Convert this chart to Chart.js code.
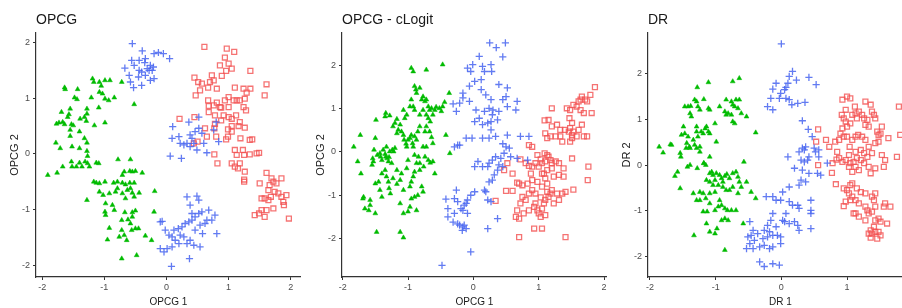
<!DOCTYPE html>
<html>
<head>
<meta charset="utf-8">
<script src="https://cdn.jsdelivr.net/npm/chart.js@4"></script>
<style>
  html, body { margin: 0; padding: 0; background: #fff; }
  body { width: 902px; height: 308px; overflow: hidden; position: relative; }
  .panel { position: absolute; top: 0; width: 306px; height: 308px; }
</style>
</head>
<body>
<div class="panel" style="left:0px"><canvas id="c1" width="306" height="308"></canvas></div>
<div class="panel" style="left:306px"><canvas id="c2" width="306" height="308"></canvas></div>
<div class="panel" style="left:612px"><canvas id="c3" width="306" height="308"></canvas></div>
<script>
const tickValues = [-2, -1, 0, 1, 2];

// OPCG
const opcgGreen = [[-1.91,-0.38],[-1.76,-0.34],[-1.64,1.19],[-1.63,1.16],[-1.43,1.16],[-1.19,1.35],[-1.17,1.29],[-1.08,1.29],[-1.05,1.22],[-0.99,1.32],[-0.91,1.32],[-0.72,1.29],[-1.48,1.01],[-1.44,0.98],[-1.21,1.01],[-1.08,1.11],[-1.03,1.08],[-0.99,0.99],[-0.84,1.01],[-0.93,0.96],[-1.55,0.81],[-1.28,0.81],[-1.09,0.83],[-1.69,0.75],[-1.73,0.56],[-1.77,0.54],[-1.67,0.57],[-1.64,0.53],[-1.59,0.66],[-1.57,0.71],[-1.53,0.53],[-1.50,0.51],[-1.39,0.63],[-1.32,0.66],[-1.28,0.72],[-1.29,0.59],[-1.16,0.51],[-0.99,0.56],[-0.52,0.89],[-1.55,0.43],[-1.55,0.32],[-1.40,0.40],[-1.32,0.28],[-1.78,0.20],[-1.71,0.10],[-1.52,0.13],[-1.40,0.10],[-1.28,0.05],[-1.27,-0.04],[-1.28,0.20],[-1.53,-0.14],[-1.40,-0.16],[-1.36,-0.23],[-1.31,-0.14],[-1.27,-0.17],[-1.24,-0.23],[-1.13,-0.16],[-1.09,-0.17],[-1.45,-0.23],[-1.52,-0.23],[-1.67,-0.23],[-1.17,-0.50],[-1.13,-0.52],[-1.08,-0.53],[-0.99,-0.50],[-0.85,-0.52],[-0.79,-0.50],[-0.71,-0.52],[-0.66,-0.55],[-0.59,-0.52],[-0.52,-0.52],[-0.78,-0.10],[-0.58,-0.10],[-0.59,-0.31],[-0.55,-0.32],[-0.50,-0.31],[-0.39,-0.34],[-0.68,-0.32],[-0.71,-0.38],[-1.08,-0.68],[-1.02,-0.74],[-0.92,-0.71],[-0.82,-0.68],[-0.71,-0.71],[-0.63,-0.65],[-0.55,-0.70],[-0.44,-0.70],[-0.19,-0.67],[-1.28,-0.83],[-0.98,-0.89],[-0.87,-0.92],[-0.66,-0.80],[-0.52,-0.77],[-0.58,-0.62],[-0.79,-0.62],[-0.99,-1.04],[-0.98,-1.10],[-0.84,-1.01],[-0.67,-1.05],[-0.55,-1.05],[-0.50,-1.02],[-0.55,-1.13],[-0.72,-1.19],[-0.62,-1.18],[-0.58,-1.25],[-0.56,-1.37],[-0.50,-1.34],[-0.45,-1.34],[-0.92,-1.33],[-0.72,-1.37],[-0.68,-1.46],[-0.76,-1.49],[-0.64,-1.55],[-0.95,-1.54],[-0.34,-1.47],[-0.24,-1.55],[-0.20,-1.04],[-0.72,-1.88],[-0.48,-1.82]];
const opcgBlue = [[-0.55,1.98],[-0.39,1.85],[-0.56,1.68],[-0.44,1.68],[-0.34,1.71],[-0.20,1.80],[-0.13,1.82],[-0.05,1.80],[0.05,1.71],[-0.67,1.54],[-0.52,1.59],[-0.44,1.50],[-0.40,1.47],[-0.31,1.53],[-0.26,1.59],[-0.28,1.50],[-0.23,1.50],[-0.21,1.56],[-0.34,1.41],[-0.45,1.38],[-0.60,1.41],[-0.58,1.29],[-0.53,1.19],[-0.40,1.23],[-0.20,1.35],[-0.26,1.32],[-0.35,1.64],[0.10,0.49],[0.09,0.28],[0.20,0.31],[0.22,0.19],[0.28,0.16],[0.33,0.19],[0.38,0.34],[0.41,0.28],[0.46,0.40],[0.52,0.46],[0.57,0.37],[0.60,0.19],[0.49,0.07],[0.65,0.02],[0.06,-0.04],[0.24,-0.08],[0.80,0.57],[0.84,0.22],[0.36,0.57],[0.52,0.66],[0.76,0.43],[0.38,0.13],[0.44,0.19],[-0.10,-1.22],[-0.07,-1.21],[-0.02,-1.37],[0.04,-1.46],[0.09,-1.49],[0.12,-1.37],[0.19,-1.34],[0.25,-1.31],[0.30,-1.25],[0.36,-1.22],[0.41,-1.19],[0.46,-1.13],[0.52,-1.07],[0.57,-1.04],[0.68,-1.01],[0.78,-1.10],[0.81,-1.43],[0.33,-0.77],[0.49,-0.76],[0.52,-0.83],[0.38,-0.92],[0.41,-1.07],[0.54,-1.28],[0.62,-1.25],[0.46,-1.37],[0.38,-1.55],[0.33,-1.61],[0.44,-1.64],[0.54,-1.67],[0.20,-1.61],[0.09,-1.67],[0.01,-1.70],[-0.10,-1.70],[-0.04,-1.76],[0.08,-2.02],[0.37,-1.88],[0.28,-1.49],[0.22,-1.46],[0.58,-1.43],[0.65,-1.19],[0.73,-1.19],[0.14,-1.55]];
const opcgRed = [[0.61,1.92],[0.97,1.89],[1.09,1.83],[0.94,1.73],[0.86,1.59],[1.00,1.62],[1.05,1.53],[0.96,1.49],[0.73,1.41],[0.76,1.32],[0.89,1.40],[0.45,1.37],[0.51,1.29],[0.57,1.26],[0.54,1.14],[0.47,1.05],[0.70,1.29],[0.81,1.17],[0.67,1.19],[1.35,1.49],[1.61,1.25],[1.58,1.05],[1.24,1.17],[1.35,1.17],[1.29,1.10],[1.10,1.19],[0.67,0.96],[0.68,0.86],[0.76,0.87],[0.86,0.84],[0.94,0.96],[1.00,1.02],[1.08,0.96],[1.13,0.96],[1.18,0.96],[1.26,0.99],[1.00,0.84],[0.88,0.83],[0.81,0.92],[1.24,0.84],[1.28,0.78],[0.68,0.75],[0.78,0.69],[0.92,0.69],[1.00,0.66],[1.05,0.63],[1.12,0.69],[1.18,0.57],[1.26,0.47],[1.16,0.50],[1.05,0.50],[0.99,0.44],[0.99,0.31],[0.88,0.60],[0.78,0.54],[0.77,0.46],[0.62,0.46],[0.65,0.31],[0.80,0.31],[0.96,0.26],[1.05,0.40],[1.19,0.28],[1.34,0.25],[1.38,0.26],[1.10,0.07],[1.13,-0.02],[1.23,0.07],[1.25,-0.02],[1.34,-0.01],[1.45,0.01],[1.49,0.02],[1.05,-0.17],[1.10,-0.23],[1.15,-0.26],[1.18,-0.17],[1.26,-0.32],[1.25,-0.46],[1.25,-0.50],[0.77,-0.01],[0.82,-0.17],[0.50,0.22],[0.45,0.66],[0.21,0.63],[0.44,0.19],[1.61,-0.34],[1.69,-0.44],[1.72,-0.50],[1.77,-0.53],[1.85,-0.44],[1.66,-0.56],[1.64,-0.65],[1.74,-0.68],[1.80,-0.71],[1.68,-0.77],[1.64,-0.83],[1.58,-0.80],[1.53,-0.80],[1.61,-1.01],[1.53,-1.01],[1.49,-1.07],[1.42,-1.10],[1.58,-1.13],[1.72,-0.98],[1.88,-0.86],[1.89,-0.92],[1.93,-0.74],[1.97,-1.16],[1.85,-0.77],[1.50,-0.53]];

// OPCG - cLogit
const clogitGreen = [[-1.83,0.12],[-1.77,-0.22],[-1.73,0.39],[-1.72,-0.50],[-1.69,-1.08],[-1.68,-1.04],[-1.66,-1.31],[-1.60,-1.35],[-1.58,-1.23],[-1.58,-1.11],[-1.55,-0.30],[-1.54,-0.15],[-1.53,-0.22],[-1.52,0.05],[-1.50,0.32],[-1.49,0.74],[-1.47,-0.07],[-1.43,-0.03],[-1.42,-0.11],[-1.40,-0.19],[-1.38,0.05],[-1.35,-0.05],[-1.34,-0.11],[-1.33,0.12],[-1.32,-0.15],[-1.30,-0.22],[-1.29,-0.12],[-1.28,0.01],[-1.25,-0.26],[-1.24,0.05],[-1.22,0.01],[-1.20,0.09],[-1.35,0.82],[-1.34,0.90],[-1.28,0.84],[-1.23,0.59],[-1.20,0.67],[-1.17,0.76],[-1.17,0.43],[-1.15,0.51],[-1.12,0.63],[-1.10,0.47],[-1.07,0.39],[-1.06,0.28],[-1.03,0.19],[-1.02,0.12],[-1.00,0.28],[-0.97,0.32],[-0.95,0.39],[-0.93,0.20],[-0.92,0.12],[-0.90,0.36],[-0.87,0.28],[-0.85,0.47],[-0.82,0.59],[-0.82,0.86],[-0.90,0.97],[-0.92,1.05],[-0.97,1.05],[-0.95,1.21],[-1.02,0.86],[-1.07,0.97],[-1.05,0.78],[-0.95,1.94],[-0.92,1.86],[-0.90,1.52],[-0.88,1.44],[-0.87,1.36],[-0.82,1.48],[-0.77,1.28],[-0.74,1.17],[-0.72,1.21],[-0.69,1.05],[-0.67,0.97],[-0.64,1.01],[-0.62,0.86],[-0.59,0.97],[-0.57,1.04],[-0.52,1.01],[-0.49,0.94],[-0.47,1.05],[-0.44,1.15],[-0.37,1.36],[-0.47,2.02],[-0.72,1.90],[-0.79,1.21],[-0.77,0.97],[-0.72,0.86],[-0.69,0.78],[-0.66,0.70],[-0.72,0.59],[-0.67,0.47],[-0.64,0.34],[-0.62,0.20],[-0.72,0.12],[-0.74,-0.11],[-0.69,-0.19],[-0.66,-0.25],[-0.62,-0.22],[-0.59,-0.50],[-0.76,-0.34],[-0.82,-0.42],[-0.87,-0.26],[-0.90,-0.46],[-0.92,-0.57],[-0.95,-0.69],[-0.97,-0.80],[-0.79,-0.80],[-0.77,-0.92],[-0.85,-1.00],[-0.90,-1.04],[-0.95,-1.08],[-1.12,-1.19],[-1.00,-1.38],[-0.97,-1.27],[-1.07,-1.42],[-0.87,-1.35],[-1.48,-1.85],[-1.12,-1.85],[-1.07,-1.98],[-1.45,-0.69],[-1.40,-0.50],[-1.35,-0.42],[-1.33,-0.57],[-1.30,-0.69],[-1.29,-0.84],[-1.27,-0.96],[-1.23,-0.61],[-1.17,-0.74],[-1.12,-0.65],[-1.10,-0.50],[-1.07,-0.88],[-1.02,-0.38],[-1.00,-0.19],[-1.17,-0.42],[-1.40,-1.04],[-1.43,-0.88],[-1.50,-0.73],[-0.36,-0.03],[-0.90,-0.07],[-0.84,-0.11],[-0.82,-0.26],[-0.77,0.12],[-0.74,0.47],[-1.50,-1.42],[-0.42,0.39]];
const clogitBlue = [[0.25,2.52],[0.35,2.41],[0.49,2.52],[0.45,2.20],[0.09,2.21],[-0.01,2.02],[-0.09,1.94],[-0.04,1.86],[0.14,1.98],[0.27,2.02],[0.28,1.86],[0.17,1.86],[0.12,1.67],[0.02,1.63],[-0.06,1.52],[-0.16,1.36],[0.12,1.44],[0.19,1.32],[0.27,1.21],[0.39,1.56],[0.52,1.48],[0.50,1.28],[0.45,1.21],[0.67,1.17],[0.65,0.97],[0.52,1.05],[0.39,0.94],[0.30,0.97],[0.24,1.01],[0.17,0.94],[0.09,0.78],[0.04,0.97],[-0.06,1.17],[-0.21,1.13],[-0.31,1.11],[-0.26,0.94],[-0.16,1.25],[0.37,0.74],[0.27,0.70],[0.29,0.86],[0.22,0.67],[0.14,0.63],[0.02,0.70],[0.27,0.51],[0.34,0.36],[0.24,0.32],[0.14,0.32],[-0.02,0.32],[0.52,0.39],[0.45,0.19],[0.50,0.12],[0.55,0.09],[0.57,-0.11],[0.47,-0.03],[0.34,-0.11],[0.29,-0.19],[0.24,-0.26],[0.42,-0.15],[0.39,-0.30],[0.37,-0.42],[0.32,-0.53],[0.29,-0.65],[0.24,-0.69],[0.45,-0.34],[-0.11,0.32],[-0.24,0.16],[-0.29,0.12],[-0.21,0.16],[0.07,-0.22],[0.14,-0.34],[0.02,-0.34],[0.22,-0.34],[0.19,-0.92],[0.17,-0.88],[0.22,-1.11],[0.27,-1.15],[0.02,-0.92],[-0.04,-1.00],[-0.09,-1.11],[-0.11,-1.19],[-0.14,-1.23],[-0.09,-1.42],[-0.16,-1.35],[-0.19,-1.31],[-0.24,-1.15],[-0.29,-1.08],[-0.26,-0.88],[-0.42,-1.09],[-0.39,-1.31],[-0.39,-1.50],[-0.31,-1.62],[-0.24,-1.66],[-0.21,-1.69],[-0.16,-1.73],[-0.11,-1.77],[-0.17,-1.81],[-0.14,-1.69],[-0.29,-1.42],[-0.04,-2.31],[-0.48,-2.62],[0.72,0.36],[0.67,-0.15],[0.85,0.36],[0.83,-0.19],[0.22,-1.77],[0.37,-1.54]];
const clogitRed = [[1.86,1.50],[1.79,1.32],[1.71,1.21],[1.66,1.28],[1.61,1.17],[1.58,1.05],[1.64,0.97],[1.69,0.90],[1.74,1.17],[1.81,0.90],[1.64,1.21],[1.53,1.09],[1.48,0.97],[1.43,1.01],[1.47,0.78],[1.51,0.67],[1.48,0.55],[1.53,0.47],[1.61,0.51],[1.66,0.63],[1.69,0.36],[1.58,0.36],[1.51,0.39],[1.46,0.47],[1.40,0.51],[1.33,0.51],[1.28,0.63],[1.20,0.59],[1.15,0.74],[1.20,1.01],[1.09,0.73],[1.10,0.43],[1.13,0.32],[1.18,0.36],[1.26,0.36],[1.33,0.36],[1.36,0.24],[1.48,0.24],[1.51,0.32],[1.74,0.36],[0.85,0.16],[0.90,0.12],[0.98,-0.07],[1.09,-0.03],[1.13,-0.07],[1.15,-0.11],[1.18,-0.19],[1.20,-0.26],[1.26,-0.22],[1.31,-0.26],[1.10,-0.22],[1.05,-0.26],[1.03,-0.17],[1.00,-0.34],[0.95,-0.26],[0.90,-0.34],[0.85,-0.32],[0.80,-0.26],[0.72,-0.17],[0.52,-0.26],[0.47,-0.42],[0.50,-0.90],[0.60,-0.90],[0.67,-0.71],[0.70,-0.73],[0.75,-0.77],[0.83,-0.73],[0.90,-0.65],[0.98,-0.69],[1.08,-0.50],[1.10,-0.61],[1.13,-0.73],[1.05,-0.80],[1.13,-0.92],[1.20,-0.88],[1.28,-0.96],[1.36,-0.96],[1.41,-0.92],[1.53,-0.87],[1.23,-0.57],[1.31,-0.53],[1.38,-0.38],[1.38,-0.57],[1.51,-0.15],[1.76,-0.34],[1.75,-0.65],[0.90,-0.88],[0.85,-0.96],[0.80,-1.11],[0.75,-1.04],[0.72,-1.19],[0.67,-1.35],[0.65,-1.50],[0.70,-1.54],[0.77,-1.42],[0.85,-1.35],[0.93,-1.27],[0.95,-1.19],[0.98,-1.35],[1.00,-1.42],[1.05,-1.31],[1.08,-1.19],[1.10,-1.11],[1.15,-1.04],[1.18,-0.96],[1.23,-1.19],[1.31,-1.11],[1.03,-1.50],[1.10,-1.46],[0.93,-1.77],[1.05,-1.77],[0.70,-1.97],[1.41,-1.97],[0.34,-1.13],[0.95,-0.96],[1.03,-1.05],[0.60,-0.50],[0.88,-0.50],[1.05,-0.50],[1.20,-0.38],[1.13,-0.42]];

// DR
const drGreen = [[-1.86,0.40],[-1.80,0.27],[-1.69,0.45],[-1.67,0.44],[-1.62,-0.24],[-1.58,-0.15],[-1.54,-0.51],[-1.53,0.18],[-1.47,1.28],[-1.42,1.28],[-1.39,1.13],[-1.38,1.29],[-1.37,1.06],[-1.32,1.43],[-1.29,1.39],[-1.27,1.28],[-1.24,1.21],[-1.18,1.44],[-1.11,1.24],[-1.09,1.21],[-1.28,1.70],[-1.49,0.84],[-1.52,0.66],[-1.47,0.69],[-1.42,0.62],[-1.44,0.48],[-1.40,0.40],[-1.39,0.37],[-1.34,0.55],[-1.32,0.44],[-1.29,0.37],[-1.24,0.29],[-1.24,0.40],[-1.27,0.62],[-1.29,0.73],[-1.22,0.73],[-1.19,0.69],[-1.16,0.80],[-1.14,0.84],[-1.11,0.73],[-1.09,0.69],[-1.29,0.84],[-1.43,-0.04],[-1.39,0.00],[-1.28,-0.07],[-1.18,0.04],[-1.15,0.00],[-0.99,0.51],[-1.09,0.18],[-1.54,0.26],[-1.45,0.37],[-1.34,-0.62],[-1.29,-0.77],[-1.24,-0.59],[-1.24,-0.77],[-1.19,-0.62],[-1.15,-0.73],[-1.09,-0.62],[-1.01,-0.59],[-1.19,-1.02],[-1.13,-1.02],[-1.09,-0.84],[-1.01,-0.99],[-0.96,-0.91],[-0.94,-0.77],[-0.91,-0.88],[-0.86,-0.95],[-0.82,-0.99],[-0.76,-0.99],[-0.69,-0.99],[-0.66,-0.62],[-1.14,-1.28],[-1.09,-1.46],[-1.01,-1.50],[-0.98,-1.39],[-0.91,-1.21],[-0.86,-1.17],[-0.81,-1.21],[-1.33,-1.54],[-0.86,-1.86],[-0.58,-1.28],[-0.46,-0.59],[-0.39,-0.73],[-0.53,-0.37],[-0.57,0.07],[-0.39,0.71],[-0.84,1.43],[-0.76,1.39],[-0.74,1.32],[-0.71,1.28],[-0.69,1.43],[-0.66,1.24],[-0.64,1.43],[-0.61,1.13],[-0.53,1.06],[-0.86,1.17],[-0.84,1.10],[-0.81,1.13],[-0.76,1.10],[-0.74,0.95],[-0.71,0.91],[-1.09,-0.18],[-1.06,-0.15],[-1.04,-0.22],[-1.01,-0.33],[-0.99,-0.18],[-0.94,-0.22],[-0.91,-0.29],[-0.89,-0.37],[-0.86,-0.24],[-0.83,-0.20],[-0.79,-0.29],[-0.74,-0.18],[-0.69,-0.15],[-0.66,-0.26],[-0.64,-0.37],[-0.61,-0.48],[-0.74,-0.48],[-0.79,-0.55],[-0.84,-0.55],[-0.89,-0.48],[-0.96,-0.44],[-1.04,-0.44],[-1.09,-0.37],[-1.14,-0.33],[-1.18,0.04],[-0.64,1.90],[-0.74,1.83],[-1.11,1.81],[-0.94,1.28],[-1.01,0.91]];
const drBlue = [[0.00,2.65],[0.17,2.05],[0.12,1.94],[0.23,1.86],[0.42,1.92],[0.53,1.76],[0.10,1.79],[0.07,1.70],[0.05,1.65],[-0.08,1.79],[-0.13,1.66],[-0.01,1.57],[-0.03,1.46],[0.07,1.46],[0.12,1.43],[0.16,1.32],[0.25,1.35],[0.36,1.37],[-0.16,1.46],[-0.21,1.28],[-0.13,1.21],[0.32,0.97],[0.41,0.78],[0.47,0.62],[0.37,0.40],[0.35,0.33],[0.32,0.37],[0.27,0.29],[0.30,0.11],[0.35,0.07],[0.40,0.11],[0.42,0.18],[0.50,0.37],[0.52,0.29],[0.10,0.18],[0.20,-0.07],[0.32,-0.11],[0.42,-0.18],[0.55,-0.18],[0.60,-0.22],[0.37,-0.37],[0.27,-0.44],[0.30,-0.33],[0.12,-0.48],[0.02,-0.59],[-0.13,-0.69],[-0.23,-0.69],[-0.08,-0.77],[-0.01,-0.77],[0.12,-0.80],[0.17,-0.88],[0.25,-0.88],[0.27,-0.95],[0.45,-0.77],[0.45,-0.99],[0.45,-1.06],[0.07,-1.06],[0.02,-1.21],[-0.13,-1.06],[-0.16,-1.21],[-0.21,-1.32],[-0.26,-1.43],[-0.18,-1.46],[-0.08,-1.35],[0.05,-1.24],[0.12,-1.28],[0.20,-1.24],[0.25,-1.32],[0.27,-1.43],[0.45,-1.39],[-0.13,-1.54],[-0.21,-1.57],[-0.28,-1.61],[-0.36,-1.50],[-0.43,-1.43],[-0.46,-1.54],[-0.41,-1.65],[-0.51,-1.57],[-0.48,-1.72],[-0.53,-1.83],[-0.43,-1.83],[-0.33,-1.79],[-0.26,-1.76],[-0.18,-1.83],[-0.13,-1.79],[-0.06,-1.54],[-0.01,-1.57],[-0.01,-1.72],[-0.33,-2.12],[-0.26,-2.22],[-0.13,-2.16],[-0.03,-2.19],[-0.48,-1.24],[0.70,0.04],[0.57,0.33],[0.57,0.18]];
const drRed = [[0.56,0.78],[0.53,0.51],[0.56,0.00],[0.68,0.55],[0.73,0.40],[0.77,-0.17],[0.78,0.04],[0.82,0.51],[0.84,0.12],[0.85,0.29],[0.88,0.55],[0.93,0.80],[0.92,1.10],[0.93,1.43],[0.98,1.21],[1.00,1.50],[1.05,1.46],[0.95,1.02],[0.98,0.95],[1.00,0.84],[1.05,0.91],[1.08,1.10],[1.12,1.28],[1.13,1.13],[1.15,1.02],[1.18,1.17],[1.23,1.10],[1.26,1.02],[1.28,1.39],[1.28,0.88],[1.31,0.99],[1.33,0.84],[1.36,1.32],[1.38,1.17],[1.41,1.10],[1.43,1.02],[1.46,0.73],[1.48,0.66],[1.51,0.69],[1.53,0.84],[1.63,0.59],[1.79,1.28],[1.81,0.66],[1.76,0.18],[0.90,0.69],[0.95,0.62],[1.00,0.62],[1.04,0.40],[1.08,0.55],[1.13,0.62],[1.17,0.66],[1.23,0.62],[1.28,0.55],[1.33,0.40],[1.38,0.26],[1.43,0.48],[1.48,0.51],[1.53,0.22],[1.58,0.11],[1.56,-0.04],[1.43,-0.07],[1.36,-0.18],[1.33,-0.04],[1.26,0.04],[1.21,0.11],[1.15,0.15],[1.10,0.07],[1.05,0.04],[0.98,0.11],[0.93,0.07],[0.88,0.15],[1.03,0.22],[1.13,0.29],[1.21,0.33],[1.26,0.26],[1.03,-0.04],[1.08,-0.15],[1.13,-0.04],[1.18,-0.11],[1.31,0.18],[0.83,-0.42],[1.00,-0.55],[1.03,-0.62],[1.08,-0.69],[1.05,-0.77],[1.13,-0.77],[1.18,-0.84],[1.28,-0.91],[1.31,-0.99],[1.33,-1.06],[1.38,-1.02],[1.41,-0.77],[1.43,-0.62],[1.43,-0.91],[1.38,-0.69],[1.28,-0.62],[1.21,-0.59],[1.15,-0.51],[1.08,-0.40],[1.05,-0.44],[0.98,-0.80],[0.95,-0.90],[1.13,-1.06],[1.18,-1.13],[1.28,-1.21],[1.43,-1.21],[1.48,-1.17],[1.51,-1.24],[1.56,-0.91],[1.58,-0.84],[1.66,-0.91],[1.61,-1.28],[1.33,-1.50],[1.36,-1.43],[1.41,-1.35],[1.38,-1.50],[1.43,-1.46],[1.48,-1.46],[1.51,-1.54],[1.46,-1.61],[1.36,-1.59],[0.95,-0.51],[1.10,-1.06]];

const FONT = '"Liberation Sans", Arial, Helvetica, sans-serif';

const panelTitle = {
  id: 'panelTitle',
  afterDraw(chart, args, opts) {
    const { ctx, chartArea } = chart;
    ctx.save();
    ctx.font = '14px ' + FONT;
    ctx.fillStyle = '#1a1a1a';
    ctx.textBaseline = 'middle';
    ctx.textAlign = 'left';
    ctx.fillText(opts.text, chartArea.left, 20);
    ctx.restore();
  },
};

function toPoints(pairs) {
  return pairs.map(([x, y]) => ({ x, y }));
}

function axis(title, min, max, horizontal) {
  return {
    type: 'linear',
    min,
    max,
    afterBuildTicks: (scale) => {
      scale.ticks = tickValues.filter((v) => v >= min && v <= max).map((value) => ({ value }));
    },
    afterFit: (scale) => {
      if (horizontal) scale.height = 31;
      else scale.width = 36;
    },
    grid: { display: true, drawOnChartArea: false, drawTicks: true, tickLength: 3, color: '#333333', lineWidth: 1 },
    border: { display: true, color: '#333333', width: 1.2 },
    ticks: {
      color: '#4d4d4d',
      font: { family: FONT, size: 9 },
      padding: horizontal ? 2 : 3,
      autoSkip: false,
      maxRotation: 0,
    },
    title: {
      display: true,
      text: title,
      color: '#1a1a1a',
      font: { family: FONT, size: horizontal ? 10 : 11, lineHeight: 1.2 },
      padding: horizontal ? { top: 1, bottom: 0 } : { top: 8, bottom: 0 },
    },
  };
}

function createPanel(canvasId, { title, xTitle, yTitle, xRange, yRange, green, blue, red }) {
  return new Chart(document.getElementById(canvasId), {
    type: 'scatter',
    data: {
      datasets: [
        {
          data: toPoints(green),
          pointStyle: 'triangle',
          pointRadius: 2.8,
          backgroundColor: '#00bb00',
          borderColor: '#00bb00',
          borderWidth: 0.5,
        },
        {
          data: toPoints(blue),
          pointStyle: 'cross',
          pointRadius: 3.6,
          backgroundColor: 'rgba(70, 100, 240, 0.85)',
          borderColor: 'rgba(70, 100, 240, 0.85)',
          borderWidth: 1.3,
        },
        {
          data: toPoints(red),
          pointStyle: 'rect',
          pointRadius: 3.5,
          backgroundColor: 'rgba(0,0,0,0)',
          borderColor: 'rgba(242, 80, 80, 0.8)',
          borderWidth: 1.3,
        },
      ],
    },
    options: {
      responsive: false,
      animation: false,
      devicePixelRatio: 1,
      events: [],
      layout: { padding: { top: 33, right: 3.5, left: 0, bottom: 0 } },
      plugins: {
        legend: { display: false },
        tooltip: { enabled: false },
        panelTitle: { text: title },
      },
      scales: {
        x: axis(xTitle, xRange[0], xRange[1], true),
        y: axis(yTitle, yRange[0], yRange[1], false),
      },
    },
    plugins: [panelTitle],
  });
}

createPanel('c1', {
  title: 'OPCG', xTitle: 'OPCG 1', yTitle: 'OPCG 2',
  xRange: [-2.10, 2.16], yRange: [-2.21, 2.17],
  green: opcgGreen, blue: opcgBlue, red: opcgRed,
});
createPanel('c2', {
  title: 'OPCG - cLogit', xTitle: 'OPCG 1', yTitle: 'OPCG 2',
  xRange: [-2.01, 2.04], yRange: [-2.89, 2.75],
  green: clogitGreen, blue: clogitBlue, red: clogitRed,
});
createPanel('c3', {
  title: 'DR', xTitle: 'DR 1', yTitle: 'DR 2',
  xRange: [-2.03, 2.0], yRange: [-2.45, 2.89],
  green: drGreen, blue: drBlue, red: drRed,
});
</script>
</body>
</html>
